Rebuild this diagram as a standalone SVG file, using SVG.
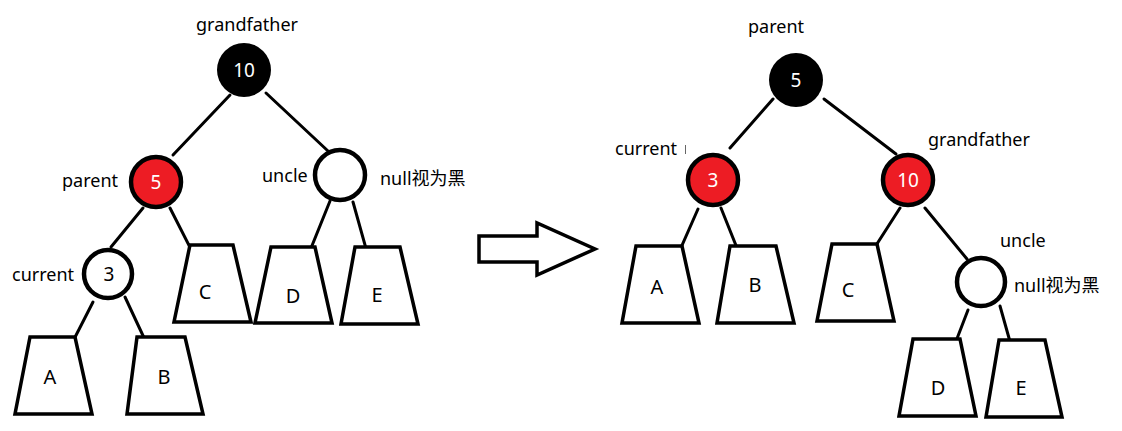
<svg xmlns="http://www.w3.org/2000/svg" width="1122" height="431" viewBox="0 0 1122 431">
<style>
text{font-family:"Noto Sans","Noto Sans CJK SC",sans-serif;font-size:18px;fill:#000}
.lbl{text-anchor:middle}
.nt{text-anchor:middle;fill:#fff;font-size:19px}
.tr{fill:#fff;stroke:#000;stroke-width:3.5;stroke-linejoin:miter}
.tl{text-anchor:middle;font-size:20px}
.edge{stroke:#000;stroke-width:3;fill:none;stroke-linecap:round}
.blk{fill:#000}
.red{fill:#ED1C24;stroke:#000;stroke-width:4.5}
.wht{fill:#fff;stroke:#000;stroke-width:4.5}
</style>
<rect width="1122" height="431" fill="#fff"/>
<g id="connectors">
<line class="edge" x1="230" y1="95" x2="173" y2="155"/>
<line class="edge" x1="266" y1="93" x2="328" y2="151"/>
<line class="edge" x1="143" y1="208" x2="111" y2="247"/>
<line class="edge" x1="170" y1="208" x2="200" y2="267"/>
<line class="edge" x1="330" y1="201" x2="303" y2="268"/>
<line class="edge" x1="353" y1="202" x2="372" y2="270"/>
<line class="edge" x1="93" y1="302" x2="68" y2="351"/>
<line class="edge" x1="125" y1="297" x2="152" y2="355"/>
<line class="edge" x1="773" y1="99" x2="730" y2="148"/>
<line class="edge" x1="824" y1="99" x2="896" y2="154"/>
<line class="edge" x1="698" y1="209" x2="676" y2="259"/>
<line class="edge" x1="721" y1="208" x2="743" y2="263"/>
<line class="edge" x1="900" y1="208" x2="866" y2="261"/>
<line class="edge" x1="925" y1="208" x2="967" y2="259"/>
<line class="edge" x1="968" y1="310" x2="948" y2="362"/>
<line class="edge" x1="1000" y1="306" x2="1016" y2="363"/>
</g>
<g id="arrow">
<polygon points="479,236 537,236 537,223 595,249 537,275 537,262 479,262" fill="#fff" stroke="#000" stroke-width="3.5"/>
</g>
<!-- left tree -->
<g id="L-grandfather">
<circle class="blk" cx="244" cy="70" r="27"/>
<text class="nt" x="244" y="77">10</text>
<text class="lbl" x="247" y="31">grandfather</text>
</g>
<g id="L-parent">
<circle class="red" cx="156" cy="182" r="25"/>
<text class="nt" x="156" y="189">5</text>
<text x="62" y="187">parent</text>
</g>
<g id="L-uncle">
<circle class="wht" cx="340" cy="175" r="25"/>
<text x="262" y="182">uncle</text>
<text x="380" y="185">null视为黑</text>
</g>
<g id="L-current">
<circle class="wht" cx="108" cy="274" r="24"/>
<text class="nt" x="109" y="281" style="fill:#000">3</text>
<text x="12" y="281">current</text>
</g>
<g id="L-A"><polygon class="tr" points="30,337 75,337 92,414 15,414"/><text class="tl" x="50" y="384">A</text></g>
<g id="L-B"><polygon class="tr" points="137,337 185,337 203,414 127,414"/><text class="tl" x="164" y="384">B</text></g>
<g id="L-C"><polygon class="tr" points="190,245 233,245 251,322 174,322"/><text class="tl" x="205" y="299">C</text></g>
<g id="L-D"><polygon class="tr" points="271,247 315,247 332,323 255,323"/><text class="tl" x="293" y="303">D</text></g>
<g id="L-E"><polygon class="tr" points="355,247 400,247 418,324 341,324"/><text class="tl" x="377" y="302">E</text></g>
<!-- right tree -->
<g id="R-parent">
<circle class="blk" cx="796" cy="80" r="27"/>
<text class="nt" x="796" y="87">5</text>
<text x="748" y="33">parent</text>
</g>
<g id="R-current">
<circle class="red" cx="713" cy="180" r="25"/>
<text class="nt" x="713" y="187">3</text>
<text x="615" y="155">current</text>
<line x1="685.5" y1="145" x2="685.5" y2="154" stroke="#666" stroke-width="1"/>
</g>
<g id="R-grandfather">
<circle class="red" cx="908" cy="180" r="25"/>
<text class="nt" x="908" y="187">10</text>
<text x="928" y="146">grandfather</text>
</g>
<g id="R-uncle">
<circle class="wht" cx="981" cy="282" r="24"/>
<text x="1000" y="247">uncle</text>
<text x="1014" y="292">null视为黑</text>
</g>
<g id="R-A"><polygon class="tr" points="636,246 682,246 699,323 622,323"/><text class="tl" x="657" y="294">A</text></g>
<g id="R-B"><polygon class="tr" points="730,246 776,246 794,323 717,323"/><text class="tl" x="755" y="292">B</text></g>
<g id="R-C"><polygon class="tr" points="832,244 877,244 894,321 817,321"/><text class="tl" x="848" y="297">C</text></g>
<g id="R-D"><polygon class="tr" points="913,339 960,339 976,416 899,416"/><text class="tl" x="938" y="395">D</text></g>
<g id="R-E"><polygon class="tr" points="999,340 1045,340 1062,417 986,417"/><text class="tl" x="1021" y="395">E</text></g>
</svg>
